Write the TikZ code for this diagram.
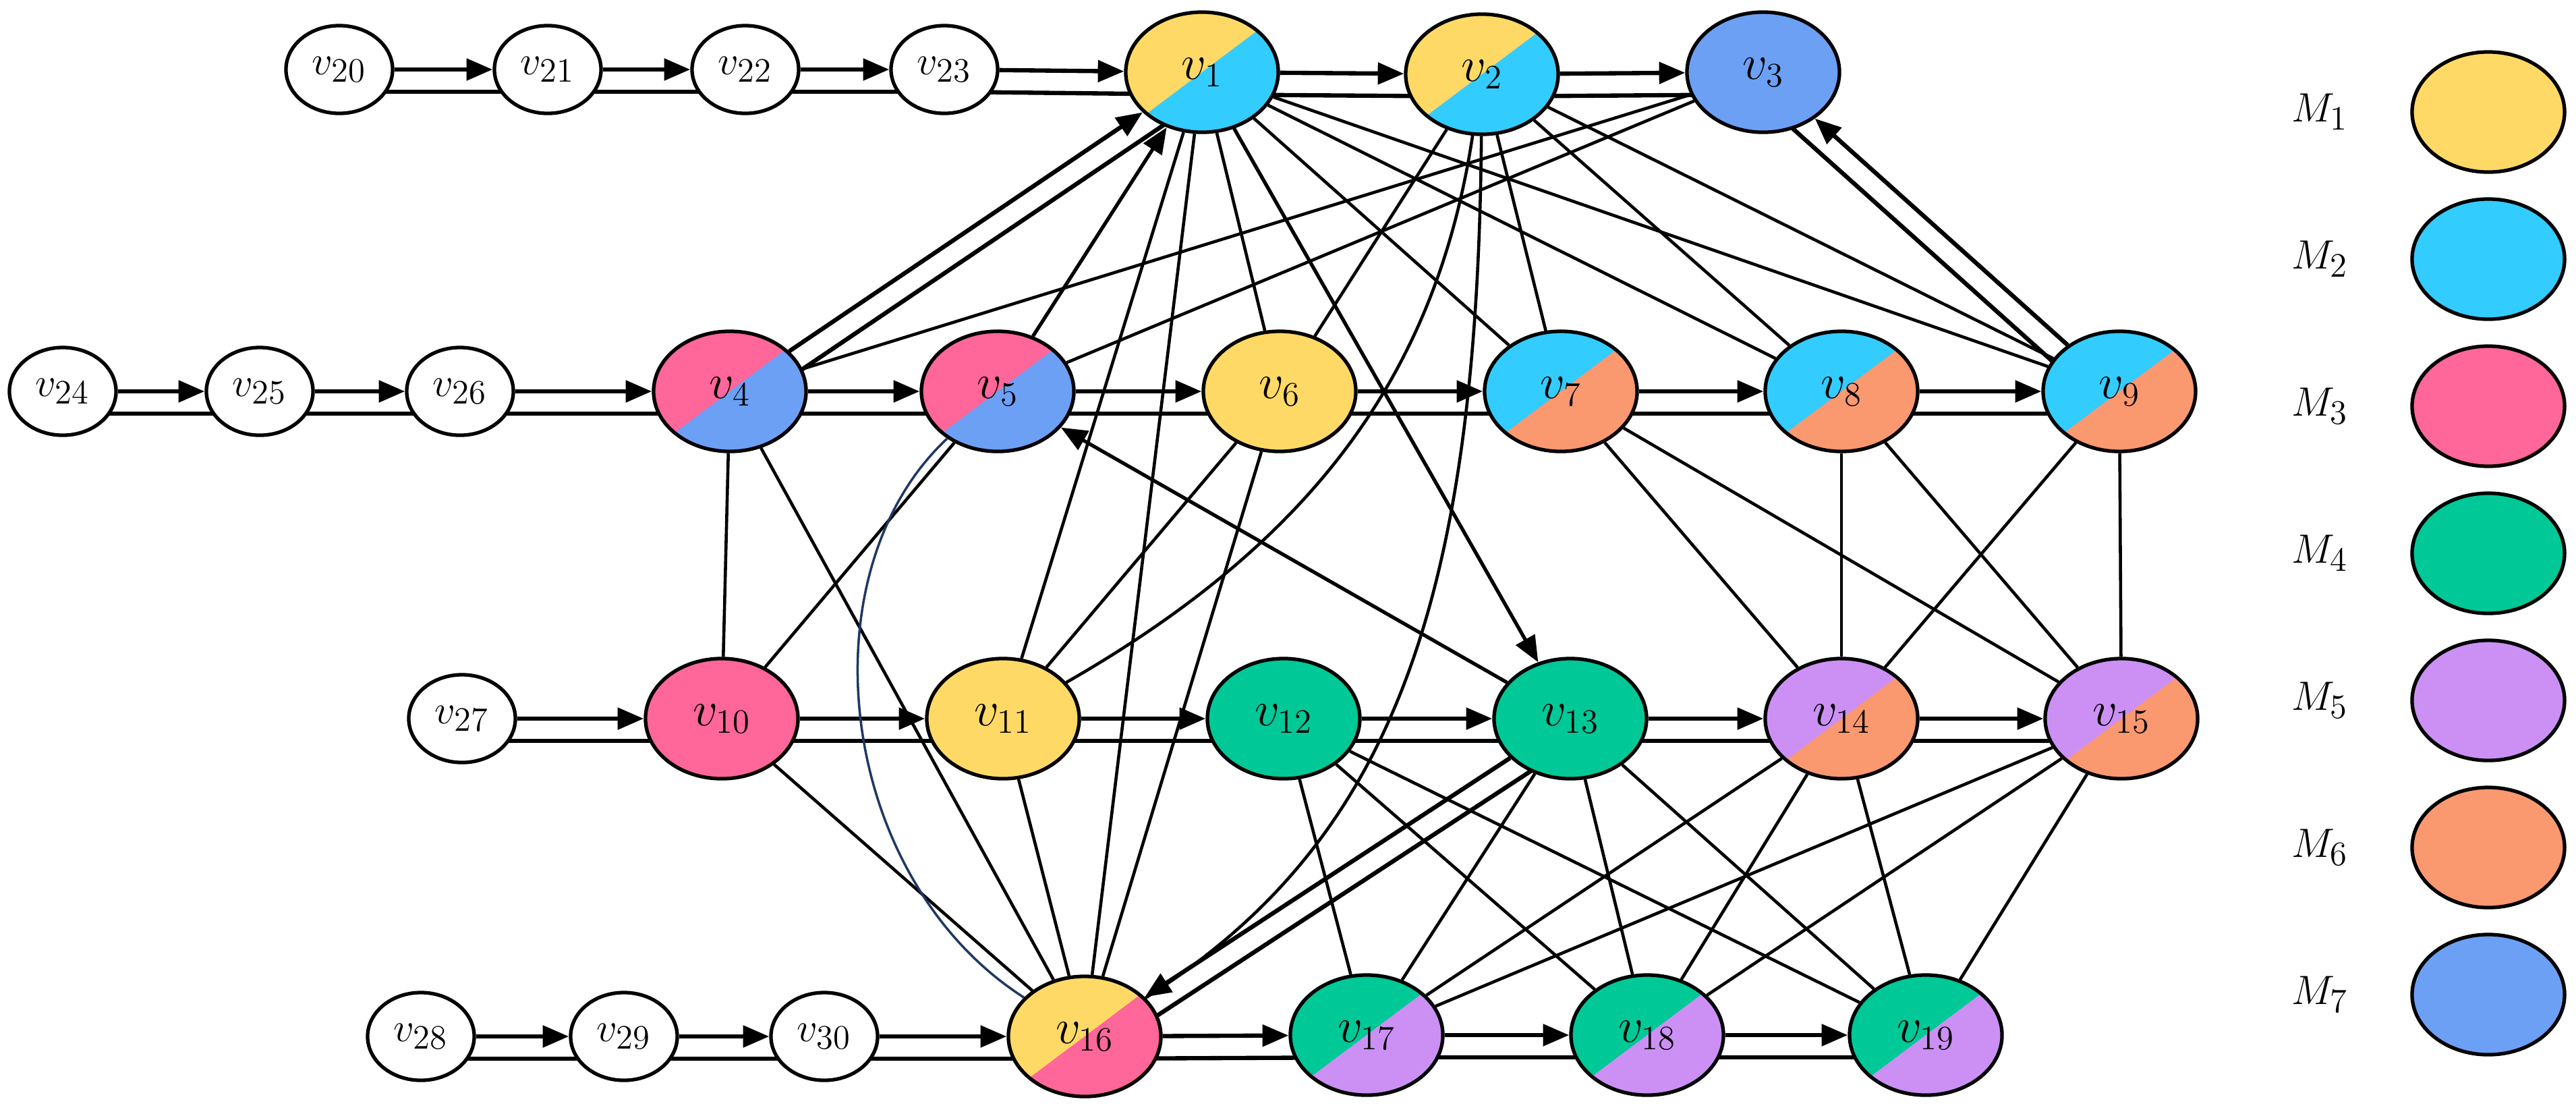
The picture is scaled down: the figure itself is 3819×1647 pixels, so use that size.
\documentclass[tikz,border=0pt]{standalone}
\usetikzlibrary{arrows.meta,calc,shapes.geometric}
\pgfdeclarelayer{background}
\pgfsetlayers{background,main}
\definecolor{cY}{HTML}{FFD966}
\definecolor{cC}{HTML}{33CCFF}
\definecolor{cP}{HTML}{FF6699}
\definecolor{cG}{HTML}{00C896}
\definecolor{cV}{HTML}{CC90F5}
\definecolor{cO}{HTML}{FA9870}
\definecolor{cB}{HTML}{6CA0F5}
\definecolor{navy}{HTML}{1F3864}
\tikzset{
  cnode/.style={ellipse,draw=black,line width=1.5pt,minimum width=2.26cm,minimum height=1.78cm,inner sep=0pt,font=\fontsize{21}{24}\selectfont},
  wnode/.style={ellipse,draw=black,fill=white,line width=1.5pt,minimum width=1.58cm,minimum height=1.3cm,inner sep=0pt,font=\fontsize{19}{22}\selectfont},
  arr/.style={line width=1.8pt,-{Triangle[length=11pt,width=9pt]}},
  dline/.style={line width=1.8pt},
  edge/.style={line width=1.3pt},
  lab/.style={font=\fontsize{19}{22}\selectfont},
}
\newcommand\twon[6]{%
  \fill[#4] (#2,#3) ellipse [x radius=1.13cm,y radius=0.89cm];
  \begin{scope}\clip (#2,#3) ellipse [x radius=1.13cm,y radius=0.89cm];
  \fill[#5] ($(#2,#3)+(-200,150)$) -- ++(400,-300) -- ++(0,300) -- cycle;\end{scope}
  \node[cnode] (#1) at (#2,#3) {$v_{#6}$};}
\newcommand\dbl[4]{%
  \draw[arr] (#3) -- (#4);
  \begin{pgfonlayer}{background}
  \draw[dline] ($(#3)!0.33cm!#1:(#4)$) -- ($(#4)!0.33cm!#2:(#3)$);
  \end{pgfonlayer}}
\begin{document}
\begin{tikzpicture}[x=0.01cm,y=-0.01cm]
\useasboundingbox (0,0) rectangle (3819,1647);
% white nodes
\foreach \n/\x/\y in {20/503/103,21/812/103,22/1105/103,23/1400/103,24/93/580,25/385/580,26/682/580,27/685/1065,28/624/1536,29/925/1536,30/1222/1536}
  \node[wnode] (v\n) at (\x,\y) {$v_{\n}$};
% coloured nodes
\twon{v1}{1782}{107}{cY}{cC}{1}
\twon{v2}{2197}{110}{cY}{cC}{2}
\node[cnode,fill=cB] (v3) at (2614,107) {$v_{3}$};
\twon{v4}{1082}{580}{cP}{cB}{4}
\twon{v5}{1479}{580}{cP}{cB}{5}
\node[cnode,fill=cY] (v6) at (1897,580) {$v_{6}$};
\twon{v7}{2314}{580}{cC}{cO}{7}
\twon{v8}{2730}{580}{cC}{cO}{8}
\twon{v9}{3142}{580}{cC}{cO}{9}
\node[cnode,fill=cP] (v10) at (1070,1065) {$v_{10}$};
\node[cnode,fill=cY] (v11) at (1487,1065) {$v_{11}$};
\node[cnode,fill=cG] (v12) at (1903,1065) {$v_{12}$};
\node[cnode,fill=cG] (v13) at (2328,1065) {$v_{13}$};
\twon{v14}{2730}{1065}{cV}{cO}{14}
\twon{v15}{3145}{1065}{cV}{cO}{15}
\twon{v16}{1608}{1536}{cY}{cP}{16}
\twon{v17}{2026}{1534}{cG}{cV}{17}
\twon{v18}{2442}{1534}{cG}{cV}{18}
\twon{v19}{2855}{1534}{cG}{cV}{19}
% legend
\foreach \i/\c in {1/cY,2/cC,3/cP,4/cG,5/cV,6/cO,7/cB}{
  \node[cnode,fill=\c] (m\i) at (3689,{166+218*(\i-1)}) {};
  \node[lab] (ml\i) at (3439,{166+218*(\i-1)}) {$M_{\i}$};
}
% chains
\foreach \a/\b in {20/21,21/22,22/23,23/1,1/2,2/3,24/25,25/26,26/4,4/5,5/6,6/7,7/8,8/9,27/10,10/11,11/12,12/13,13/14,14/15,28/29,29/30,30/16,16/17,17/18,18/19}
  \dbl{-90}{90}{v\a}{v\b};
\dbl{-90}{90}{v4}{v1}
\dbl{90}{-90}{v9}{v3}
\dbl{90}{-90}{v13}{v16}
% single arrows
\draw[arr,line width=1.5pt] (v5) -- (v1);
\draw[arr,line width=1.5pt] (v1) -- (v13);
\draw[arr,line width=1.5pt] (v13) -- (v5);
% plain edges
\foreach \a/\b in {1/11,1/16,1/6,1/7,1/8,1/9,2/6,2/7,2/8,2/9,3/4,3/5,4/10,4/16,5/10,6/11,6/16,7/14,7/15,8/14,8/15,9/14,9/15,10/16,11/16,12/17,12/18,12/19,13/17,13/18,13/19,14/17,14/18,14/19,15/17,15/18,15/19}
  \draw[edge] (v\a) -- (v\b);
% curves
\draw[edge] (v2) .. controls (2130,550) and (1950,800) .. (v11);
\draw[edge] (v2) .. controls (2190,900) and (2060,1250) .. (v16);
\draw[navy,line width=1pt] (v5) .. controls (1190,850) and (1240,1300) .. (v16);
\end{tikzpicture}
\end{document}
